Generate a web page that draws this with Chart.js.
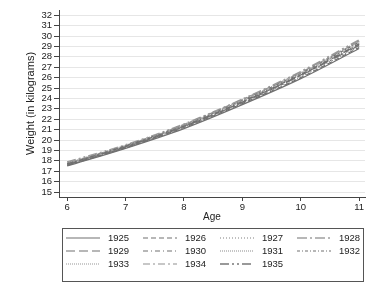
<!DOCTYPE html>
<html>
<head>
<meta charset="utf-8">
<script src="https://cdn.jsdelivr.net/npm/chart.js@4"></script>
<style>
  html, body { margin: 0; padding: 0; background: #fff; }
  #wrap { width: 392px; height: 286px; }
</style>
</head>
<body>
<div id="wrap"><canvas id="chart" width="392" height="286"></canvas></div>
<script>
var ages = [6, 7, 8, 9, 10, 11];
var cohorts = ['1925', '1926', '1927', '1928', '1929', '1930', '1931', '1932', '1933', '1934', '1935'];
var yTicks = [15, 16, 17, 18, 19, 20, 21, 22, 23, 24, 25, 26, 27, 28, 29, 30, 31, 32];
var xTicks = [6, 7, 8, 9, 10, 11];

var w1925 = [17.50, 19.20, 21.10, 23.40, 25.90, 28.80];
var w1926 = [17.55, 19.25, 21.20, 23.50, 26.00, 28.90];
var w1927 = [17.60, 19.30, 21.25, 23.55, 26.10, 29.00];
var w1928 = [17.65, 19.35, 21.30, 23.60, 26.20, 29.10];
var w1929 = [17.60, 19.30, 21.30, 23.65, 26.25, 29.20];
var w1930 = [17.70, 19.40, 21.35, 23.70, 26.30, 29.25];
var w1931 = [17.75, 19.40, 21.40, 23.75, 26.35, 29.30];
var w1932 = [17.70, 19.45, 21.40, 23.80, 26.40, 29.40];
var w1933 = [17.80, 19.50, 21.45, 23.85, 26.45, 29.45];
var w1934 = [17.75, 19.45, 21.50, 23.90, 26.50, 29.50];
var w1935 = [17.85, 19.50, 21.50, 23.90, 26.55, 29.60];

var series = [w1925, w1926, w1927, w1928, w1929, w1930, w1931, w1932, w1933, w1934, w1935];

// line styles, one per cohort
var styles = [
    {color: '#707070', width: 1.2, dash: []},
    {color: '#707070', width: 1.2, dash: [5, 3]},
    {color: '#808080', width: 1.2, dash: [1, 2]},
    {color: '#707070', width: 1.2, dash: [10, 3, 2, 3]},
    {color: '#707070', width: 1.2, dash: [9, 4]},
    {color: '#707070', width: 1.2, dash: [5, 3, 1, 3]},
    {color: '#a0a0a0', width: 1.2, dash: [1, 1]},
    {color: '#707070', width: 1.2, dash: [3, 2, 1, 2]},
    {color: '#a8a8a8', width: 1.2, dash: [1, 1]},
    {color: '#909090', width: 1.2, dash: [7, 3, 2, 3]},
    {color: '#999999', width: 2.2, dash: [9, 3, 2, 3, 2, 3]}
];

var datasets = cohorts.map(function (c, i) {
    return {
        label: c,
        data: ages.map(function (a, j) { return {x: a, y: series[i][j]}; }),
        borderColor: styles[i].color,
        borderWidth: styles[i].width,
        borderDash: styles[i].dash,
        pointRadius: 0,
        cubicInterpolationMode: 'monotone',
        fill: false
    };
});

var font = 'Liberation Sans, Arial, Helvetica, sans-serif';

var boxLegend = {
    id: 'boxLegend',
    afterDraw: function (chart) {
        var ctx = chart.ctx;
        var ds = chart.data.datasets;
        ctx.save();
        ctx.strokeStyle = '#555';
        ctx.lineWidth = 1;
        ctx.setLineDash([]);
        ctx.strokeRect(62.5, 228.5, 301, 53);
        ctx.font = '9.5px ' + font;
        ctx.textBaseline = 'middle';
        ctx.textAlign = 'left';
        for (var i = 0; i < ds.length; i++) {
            var col = i % 4, row = Math.floor(i / 4);
            var x0 = 66 + col * 77;
            var y0 = 238 + row * 13;
            ctx.strokeStyle = ds[i].borderColor;
            ctx.lineWidth = ds[i].borderWidth;
            ctx.setLineDash(ds[i].borderDash);
            ctx.beginPath();
            ctx.moveTo(x0, y0);
            ctx.lineTo(x0 + 34, y0);
            ctx.stroke();
            ctx.setLineDash([]);
            ctx.fillStyle = '#222';
            ctx.fillText(ds[i].label, x0 + 42, y0 + 0.5);
        }
        ctx.restore();
    }
};

new Chart(document.getElementById('chart').getContext('2d'), {
    type: 'line',
    data: {datasets: datasets},
    plugins: [boxLegend],
    options: {
        responsive: false,
        animation: false,
        layout: {padding: {top: 10, right: 27, bottom: 62, left: 0}},
        plugins: {legend: {display: false}, tooltip: {enabled: false}},
        scales: {
            x: {
                type: 'linear',
                min: 5.86,
                max: 11.1,
                afterBuildTicks: function (scale) {
                    scale.ticks = xTicks.map(function (v) { return {value: v}; });
                },
                afterFit: function (scale) { scale.height = 27; },
                border: {display: true, color: '#444', width: 1},
                grid: {drawOnChartArea: false, tickLength: 4, tickColor: '#444'},
                ticks: {color: '#222', padding: 1, font: {family: font, size: 9.5}, autoSkip: false, maxRotation: 0},
                title: {display: true, text: 'Age', color: '#222', padding: {top: 0, bottom: 1}, font: {family: font, size: 10}}
            },
            y: {
                min: 14.52,
                max: 32.5,
                afterBuildTicks: function (scale) {
                    scale.ticks = yTicks.map(function (v) { return {value: v}; });
                },
                afterFit: function (scale) { scale.width = 59; },
                border: {display: true, color: '#444', width: 1},
                grid: {color: '#e6e6e6', tickLength: 5, tickColor: '#444'},
                ticks: {color: '#222', padding: 2, font: {family: font, size: 9.5}, autoSkip: false},
                title: {display: true, text: 'Weight (in kilograms)', color: '#222', padding: {top: 24, bottom: 0}, font: {family: font, size: 11}}
            }
        }
    }
});
</script>
</body>
</html>
